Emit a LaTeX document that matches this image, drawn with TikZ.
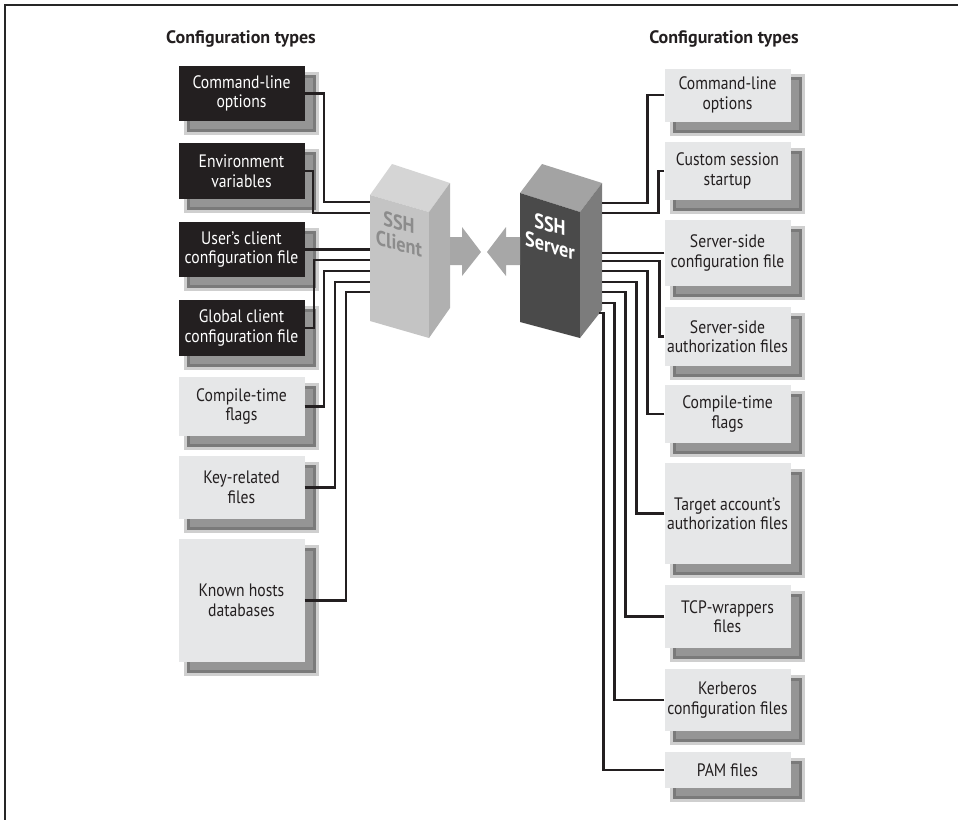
\documentclass[tikz,border=0pt]{standalone}
\usepackage{fontspec}
\setmainfont{PT Sans}[FakeStretch=0.87]
\newfontfamily\headfam{PT Sans}[FakeStretch=1.0]
\usetikzlibrary{calc}
\definecolor{boxlight}{HTML}{E6E7E8}
\definecolor{boxdark}{HTML}{231F20}
\definecolor{shlight}{HTML}{CFCFCF}
\definecolor{shdark}{HTML}{7A7A7A}
\definecolor{shmid}{HTML}{959595}
\definecolor{ctop}{HTML}{D5D5D5}
\definecolor{cfront}{HTML}{C4C4C4}
\definecolor{cright}{HTML}{B0B0B0}
\definecolor{ctext}{HTML}{8C8C8C}
\definecolor{stop}{HTML}{A3A3A3}
\definecolor{sfront}{HTML}{4A4A4A}
\definecolor{sright}{HTML}{7C7C7C}
\definecolor{arrowgray}{HTML}{A7A7A7}
\pgfdeclarelayer{bg}
\pgfsetlayers{bg,main}
\newcommand\boxfont{\fontsize{18}{19.5}\selectfont}
\newcommand\headfont{\headfam\fontsize{18}{20}\selectfont\bfseries}
\newcommand\towerfont{\fontsize{21}{21}\selectfont\bfseries}
\newcommand\boxshadow[1]{%
  \fill[shlight] ($(#1.north west)+(6,6)$) rectangle ($(#1.south east)+(14,14)$);
  \fill[shdark] ($(#1.north west)+(9,9)$) rectangle ($(#1.south east)+(11,11)$);
  \fill[shmid] ($(#1.north west)+(12,12)$) rectangle ($(#1.south east)+(8,8)$);}
\begin{document}
\begin{tikzpicture}[x=1pt,y=-1pt,
  lbox/.style={fill=boxlight, text=boxdark, minimum width=126pt, inner sep=0pt, align=center, font=\boxfont},
  dbox/.style={lbox, fill=boxdark, text=white},
  conn/.style={line width=2.4pt, draw=boxdark},
  head/.style={font=\headfont, text=boxdark},
  frame/.style={line width=1.6pt, draw=black!85},
  towerlabel/.style={font=\towerfont, align=center, yslant=-0.29, inner sep=0pt}]
\useasboundingbox (0,0) rectangle (958,820);
\draw[frame] (4,5) -- (958,5);
\draw[frame] (5,4) -- (5,820);

% headings
\node[head] (h1) at (241,39) {Configuration types};
\node[head] (h2) at (724,39) {Configuration types};

% left boxes
\node[dbox, minimum height=55pt] (l1) at (241.5,93.5) {Command-line\\options};
\node[dbox, minimum height=56pt] (l2) at (241.5,171) {Environment\\variables};
\node[dbox, minimum height=55pt] (l3) at (241.5,249.5) {User’s client\\configuration file};
\node[dbox, minimum height=56pt] (l4) at (241.5,328) {Global client\\configuration file};
\node[lbox, minimum height=59pt] (l5) at (241.5,406.5) {Compile-time\\flags};
\node[lbox, minimum height=63pt] (l6) at (241.5,487.5) {Key-related\\files};
\node[lbox, minimum height=123pt] (l7) at (241.5,600.5) {Known hosts\\databases};

% right boxes
\node[lbox, minimum height=53pt] (r1) at (727.5,95) {Command-line\\options};
\node[lbox, minimum height=58pt] (r2) at (727.5,171) {Custom session\\startup};
\node[lbox, minimum height=66pt] (r3) at (727.5,253) {Server-side\\configuration file};
\node[lbox, minimum height=59pt] (r4) at (727.5,336.5) {Server-side\\authorization files};
\node[lbox, minimum height=58pt] (r5) at (727.5,414) {Compile-time\\flags};
\node[lbox, minimum height=101pt] (r6) at (727.5,513.5) {Target account’s\\authorization files};
\node[lbox, minimum height=63pt] (r7) at (727.5,616.5) {TCP-wrappers\\files};
\node[lbox, minimum height=62pt] (r8) at (727.5,700) {Kerberos\\configuration files};
\node[lbox, minimum height=36pt] (r9) at (727.5,770) {PAM files};

\begin{pgfonlayer}{bg}
\foreach \b in {l1,l2,l3,l4,l5,l6,l7,r1,r2,r3,r4,r5,r6,r7,r8,r9} {\boxshadow{\b}}
\end{pgfonlayer}

% client tower
\fill[ctop] (370,195) -- (392,164) -- (450,183) -- (429,212) -- cycle;
\fill[cfront] (370,195) -- (429,212) -- (429,338) -- (370,321) -- cycle;
\fill[cright] (429,212) -- (450,183) -- (450,308) -- (429,338) -- cycle;
\node[towerlabel, text=ctext] (clab) at (399,233) {SSH\\Client};

% server tower
\fill[stop] (520,193) -- (542,164) -- (602,183) -- (580,212) -- cycle;
\fill[sfront] (520,193) -- (580,212) -- (580,338) -- (520,322) -- cycle;
\fill[sright] (580,212) -- (602,183) -- (602,310) -- (580,338) -- cycle;
\node[towerlabel, text=white] (slab) at (550,235) {SSH\\Server};

% arrows
\fill[arrowgray] (450,237) -- (462,237) -- (462,227) -- (481,252) -- (462,276) -- (462,265) -- (450,265) -- cycle;
\fill[arrowgray] (520,237) -- (506,237) -- (506,227) -- (487,252) -- (506,276) -- (506,265) -- (520,265) -- cycle;

% attach points
\coordinate (c1) at (370,202);
\coordinate (c2) at (370,213);
\coordinate (c3) at (370,250);
\coordinate (c4) at (370,260);
\coordinate (c5) at (370,271);
\coordinate (c6) at (370,282);
\coordinate (c7) at (370,292);
\coordinate (s1) at (602,203);
\coordinate (s2) at (602,213);
\coordinate (s3) at (602,251);
\coordinate (s4) at (602,261);
\coordinate (s5) at (602,271);
\coordinate (s6) at (602,282);
\coordinate (s7) at (602,292);
\coordinate (s8) at (602,303);
\coordinate (s9) at (599,313);

% left connectors
\draw[conn] (l1.east) -- ++(19,0) |- (c1);
\draw[conn] (l2.east) -- ++(8,0) |- (c2);
\draw[conn] (l3.east) -- (l3.east -| c3);
\draw[conn] (l4.east) -- ++(9,0) |- (c4);
\draw[conn] (l5.east) -- ++(19,0) |- (c5);
\draw[conn] (l6.east) -- ++(30,0) |- (c6);
\draw[conn] (l7.east) -- ++(41,0) |- (c7);

% right connectors
\draw[conn] (r1.west) -- ++(-17,0) |- (s1);
\draw[conn] (r2.west) -- ++(-6,0) |- (s2);
\draw[conn] (r3.west) -- (r3.west -| s3);
\draw[conn] (r4.west) -- ++(-5,0) |- (s4);
\draw[conn] (r5.west) -- ++(-17,0) |- (s5);
\draw[conn] (r6.west) -- ++(-28,0) |- (s6);
\draw[conn] (r7.west) -- ++(-39,0) |- (s7);
\draw[conn] (r8.west) -- ++(-50,0) |- (s8);
\draw[conn] (r9.west) -- ++(-61,0) |- (s9);
\end{tikzpicture}
\end{document}
